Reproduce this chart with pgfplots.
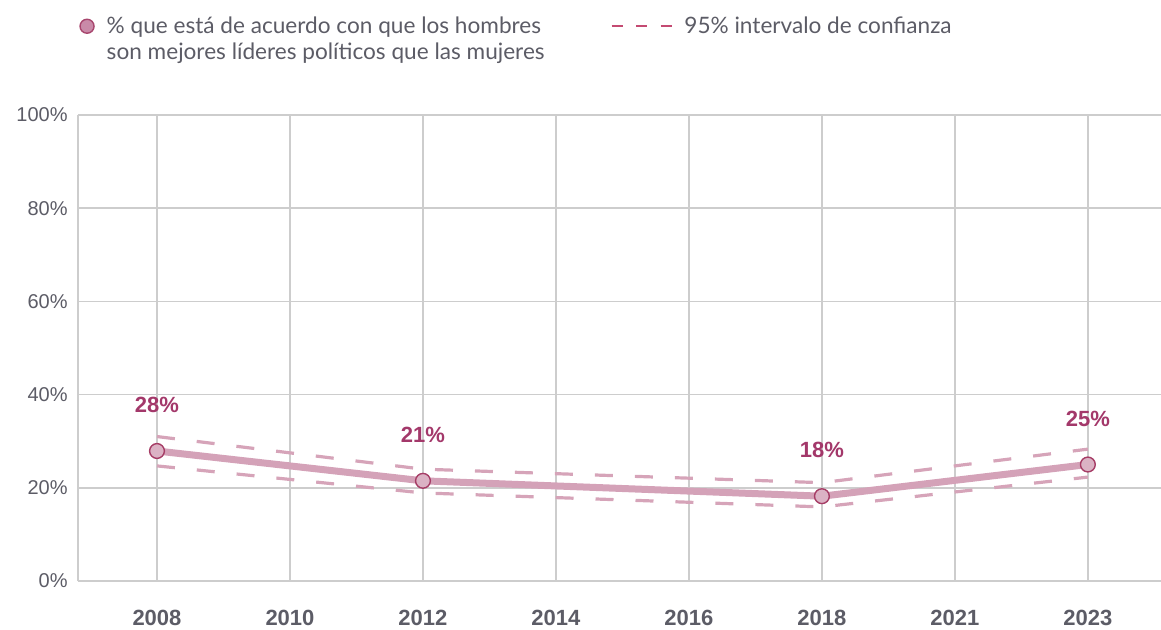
\documentclass[border=0pt]{standalone}
\usepackage{pgfplots}
\pgfplotsset{compat=1.18}
\usepackage{fontspec}
\setmainfont{Liberation Sans}
\newfontfamily\legfont{Lato}

\definecolor{gridcol}{HTML}{CDCDCD}
\definecolor{linecol}{HTML}{D4A2B8}
\definecolor{cicol}{HTML}{D6A4B9}
\definecolor{markfill}{HTML}{DBB2C4}
\definecolor{markdraw}{HTML}{A63D66}
\definecolor{labelcol}{HTML}{A3386A}
\definecolor{tickcol}{HTML}{5C5C66}
\definecolor{legfill}{HTML}{C98AA8}
\definecolor{legdraw}{HTML}{A8466E}
\definecolor{legdash}{HTML}{C44A72}

\begin{document}
\begin{tikzpicture}
\path[use as bounding box] (-39pt,-24pt) rectangle (541.5pt,290.5pt);
\begin{axis}[
  at={(0,0)}, anchor=south west,
  scale only axis,
  width=541.5pt, height=233pt,
  xmin=-0.594, xmax=7.55,
  ymin=0, ymax=100,
  xtick={0,1,2,3,4,5,6,7},
  xticklabels={2008,2010,2012,2014,2016,2018,2021,2023},
  ytick={0,20,40,60,80,100},
  yticklabel={\pgfmathprintnumber{\tick}\%},
  /pgf/number format/assume math mode=true,
  xmajorgrids, ymajorgrids,
  major grid style={gridcol, line width=0.75pt},
  axis lines*=left,
  axis line style={gridcol, line width=0.75pt},
  major tick length=0pt,
  tick style={draw=none},
  yticklabel style={font=\fontsize{10}{12}\selectfont, text=tickcol, inner sep=0pt, xshift=-5pt},
  xticklabel style={font=\bfseries\fontsize{11}{13}\selectfont, text=tickcol, inner sep=0pt, yshift=-14.5pt},
  clip=false,
  legend style={at={(axis description cs:0.0018,1.245)}, anchor=north west, xshift=-3.5pt, yshift=-3pt,
    draw=none, fill=none,
    legend columns=2, font=\legfont\fontsize{11.3}{13}\selectfont, text=tickcol,
    cells={anchor=base west},
    /tikz/every even column/.append style={column sep=31pt},
    /tikz/every odd column/.append style={column sep=4pt}},
]
\addlegendimage{legend image code/.code={\draw[fill=legfill, draw=legdraw, line width=0.7pt] (3.5pt,3.6pt) circle (3.5pt);}}
\addlegendentry{\renewcommand{\arraystretch}{1}\begin{tabular}[t]{@{}l@{}}\% que está de acuerdo con que los hombres\\son mejores líderes políticos que las mujeres\end{tabular}}
\addlegendimage{legend image code/.code={\draw[draw=legdash, line width=0.9pt, dash pattern=on 5.5pt off 6.75pt] (0,3.6pt) -- (30pt,3.6pt);}}
\addlegendentry{95\% intervalo de confianza}

\addplot[cicol, line width=1.6pt, dash pattern=on 9pt off 11pt, forget plot] coordinates {
  (0,31.0) (2,24.0) (5,21.1) (7,28.3)
};
\addplot[cicol, line width=1.6pt, dash pattern=on 9pt off 11pt, forget plot] coordinates {
  (0,24.7) (2,18.9) (5,15.9) (7,22.3)
};
\addplot[linecol, line width=3.5pt, mark=*, mark size=3.7pt,
  mark options={fill=markfill, draw=markdraw, line width=0.7pt},
  nodes near coords, point meta=explicit symbolic,
  every node near coord/.append style={font=\bfseries\fontsize{11}{13}\selectfont, text=labelcol, anchor=center, yshift=23pt},
  forget plot] coordinates {
  (0,27.9) [28\%]
  (2,21.5) [21\%]
  (5,18.2) [18\%]
  (7,25.0) [25\%]
};
\end{axis}
\end{tikzpicture}
\end{document}
